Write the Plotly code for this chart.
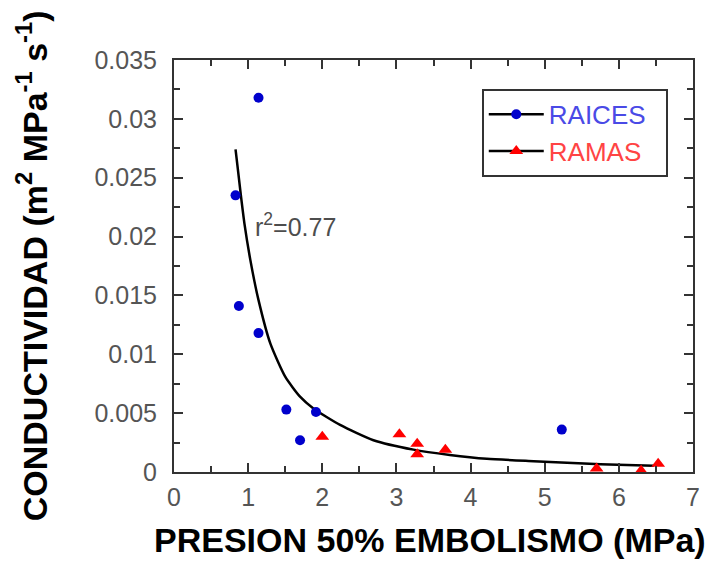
import plotly.graph_objects as go

# RAICES (roots) - blue circles
raices_x = [1.14, 0.83, 0.875, 1.14, 1.515, 1.915, 1.70, 5.23]
raices_y = [0.0318, 0.0235, 0.0141, 0.0118, 0.0053, 0.0051, 0.0027, 0.0036]

# RAMAS (branches) - red triangles
ramas_x = [2.00, 3.04, 3.28, 3.28, 3.66, 5.70, 6.30, 6.53]
ramas_y = [0.0030, 0.0032, 0.0024, 0.0015, 0.0019, 0.0003, 0.0001, 0.0007]

# fitted curve
curve_x = [0.83, 0.86, 0.90, 0.95, 1.03, 1.14, 1.30, 1.50, 1.70, 1.88, 2.24, 2.69, 3.23, 3.72, 4.22, 4.85, 5.30, 5.75, 6.47]
curve_y = [0.0274, 0.0258, 0.0236, 0.0211, 0.0180, 0.0146, 0.0109, 0.0081, 0.0064, 0.0054, 0.0040, 0.0027,
           0.0019, 0.00145, 0.00112, 0.00092, 0.00079, 0.00066, 0.00054]

x_ticks = [0, 1, 2, 3, 4, 5, 6, 7]
y_ticks = [0, 0.005, 0.01, 0.015, 0.02, 0.025, 0.03, 0.035]
y_ticklabels = ["0", "0.005", "0.01", "0.015", "0.02", "0.025", "0.03", "0.035"]

FONT = "Liberation Sans, Arial, sans-serif"
BLUE = "#0000cc"
RED = "#ff0000"

fig = go.Figure()

fig.add_trace(go.Scatter(x=curve_x, y=curve_y, mode="lines",
                         line=dict(color="black", width=2.5, shape="spline", smoothing=0.6),
                         showlegend=False, hoverinfo="skip"))

fig.add_trace(go.Scatter(x=raices_x, y=raices_y, mode="markers",
                         marker=dict(symbol="circle", size=10, color=BLUE),
                         showlegend=False, cliponaxis=False))
fig.add_trace(go.Scatter(x=ramas_x, y=ramas_y, mode="markers",
                         marker=dict(symbol="triangle-up", size=12, color=RED),
                         showlegend=False, cliponaxis=False))

# legend entries (line + marker, as in the original legend)
fig.add_trace(go.Scatter(x=[None], y=[None], mode="lines+markers",
                         line=dict(color="black", width=2.5),
                         marker=dict(symbol="circle", size=10, color=BLUE),
                         name="<span style='color:#4a4ae6'>RAICES</span>&nbsp;&nbsp;"))
fig.add_trace(go.Scatter(x=[None], y=[None], mode="lines+markers",
                         line=dict(color="black", width=2.5),
                         marker=dict(symbol="triangle-up", size=12, color=RED),
                         name="<span style='color:#ff4444'>RAMAS</span>"))

axis_common = dict(
    showline=True, linecolor="#333333", linewidth=2, mirror="ticks",
    ticks="inside", ticklen=9, tickwidth=1.5, tickcolor="#333333",
    showgrid=False, zeroline=False,
    tickfont=dict(family=FONT, size=25, color="#555555"),
)

fig.update_xaxes(range=[0, 7], tickvals=x_ticks, ticklabelstandoff=2,
                 minor=dict(dtick=0.5, ticks="inside", ticklen=6, tickcolor="#333333", tickwidth=1.5),
                 **axis_common)
fig.update_yaxes(range=[0, 0.035], tickvals=y_ticks, ticktext=y_ticklabels, ticklabelstandoff=10,
                 minor=dict(dtick=0.0025, ticks="inside", ticklen=6, tickcolor="#333333", tickwidth=1.5),
                 **axis_common)

fig.add_annotation(x=1.07, y=0.0210, xref="x", yref="y", xanchor="left", yanchor="middle",
                   text="r<sup>2</sup>=0.77", showarrow=False,
                   font=dict(family=FONT, size=25, color="#4d4d4d"))

fig.add_annotation(x=0.493, y=-0.165, xref="paper", yref="paper", xanchor="center", yanchor="middle",
                   text="<b>PRESION 50% EMBOLISMO (MPa)</b>", showarrow=False,
                   font=dict(family=FONT, size=34, color="black"))

fig.add_annotation(x=-0.275, y=0.5, xref="paper", yref="paper", xanchor="center", yanchor="middle",
                   textangle=-90,
                   text="<b>CONDUCTIVIDAD (m<sup>2</sup> MPa<sup>-1</sup> s<sup>-1</sup>)</b>",
                   showarrow=False,
                   font=dict(family=FONT, size=34, color="black"))

fig.update_layout(
    width=709, height=555,
    margin=dict(l=166, r=24, t=52, b=91),
    paper_bgcolor="white", plot_bgcolor="white",
    showlegend=True,
    legend=dict(x=0.593, y=0.93, xanchor="left", yanchor="top",
                bordercolor="#333333", borderwidth=2, bgcolor="white",
                font=dict(family=FONT, size=26),
                itemwidth=55, tracegroupgap=0),
)

fig.write_html("out.html")
